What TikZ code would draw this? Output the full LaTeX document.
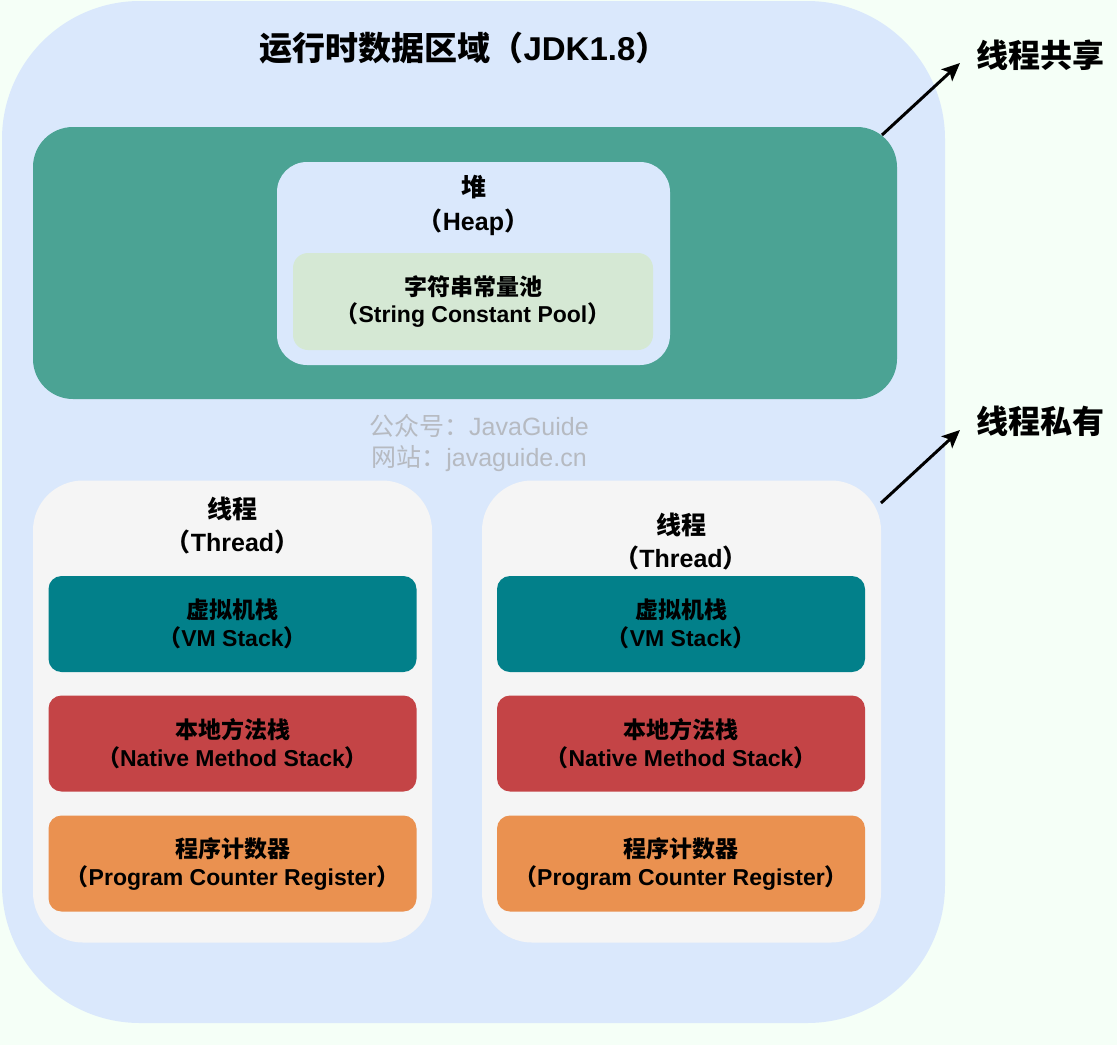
\documentclass[tikz,border=0pt]{standalone}
\usepackage{fontspec}
\setmainfont{Noto Sans CJK SC}
\newfontfamily\lat{Liberation Sans}
\usetikzlibrary{arrows.meta}
\definecolor{bgc}{HTML}{F5FFF7}
\definecolor{outerc}{HTML}{DAE8FC}
\definecolor{sharedc}{HTML}{4BA394}
\definecolor{poolc}{HTML}{D5E8D4}
\definecolor{threadc}{HTML}{F5F5F5}
\definecolor{vmc}{HTML}{02808A}
\definecolor{nativec}{HTML}{C44446}
\definecolor{pcc}{HTML}{EA9150}
\definecolor{wmc}{HTML}{B6BAC1}
\tikzset{
  area/.style={draw=none, inner sep=0pt},
  membox/.style={area, rounded corners=13pt, minimum width=368pt, minimum height=96pt,
    align=center, font=\fontsize{23}{28}\selectfont\bfseries, text=black},
  threadbox/.style={area, fill=threadc, rounded corners=50pt, minimum width=399pt, minimum height=462pt},
  lbl/.style={align=center, inner sep=0pt, text=black},
  arr/.style={line width=3pt, -{Stealth[length=18pt,width=16pt,inset=4pt]}, black}
}
\begin{document}
\begin{tikzpicture}[x=1pt,y=-1pt]
\useasboundingbox (0,0) rectangle (1117,1045);
\fill[bgc] (0,0) rectangle (1117,1045);

% runtime data area
\node[area, fill=outerc, rounded corners=138pt, minimum width=943pt, minimum height=1022pt] (runtime) at (473.5,512) {};
\node[lbl, font=\fontsize{33}{38}\selectfont\bfseries] (title) at (464,48) {运行时数据区域（{\lat JDK1.8}）};

% shared area (heap)
\node[area, fill=sharedc, rounded corners=40pt, minimum width=864pt, minimum height=272pt] (shared) at (465,263) {};
\node[area, fill=outerc, rounded corners=30pt, minimum width=393pt, minimum height=203pt] (heap) at (473.5,263.5) {};
\node[lbl, font=\fontsize{25}{34}\selectfont\bfseries] (heaplbl) at (473.5,205) {堆\\（{\lat Heap}）};
\node[area, fill=poolc, rounded corners=15pt, minimum width=360pt, minimum height=97pt,
  align=center, font=\fontsize{23}{27}\selectfont\bfseries] (pool) at (473,301.5) {字符串常量池\\（{\lat String Constant Pool}）};

% watermark
\node[lbl, text=wmc, font=\fontsize{25}{31}\selectfont] (wm) at (479,443) {公众号：{\lat JavaGuide}\\网站：{\lat javaguide.cn}};

% left thread
\node[threadbox] (t1) at (232.5,711.5) {};
\node[lbl, font=\fontsize{25}{33}\selectfont\bfseries] (t1lbl) at (232.5,526) {线程\\（{\lat Thread}）};
\node[membox, fill=vmc] (t1vm) at (232.5,624) {虚拟机栈\\（{\lat VM Stack}）};
\node[membox, fill=nativec] (t1nat) at (232.5,743.5) {本地方法栈\\（{\lat Native Method Stack}）};
\node[membox, fill=pcc] (t1pc) at (232.5,863.5) {程序计数器\\（{\lat Program Counter Register}）};

% right thread
\node[threadbox] (t2) at (681.5,711.5) {};
\node[lbl, font=\fontsize{25}{33}\selectfont\bfseries] (t2lbl) at (681,542) {线程\\（{\lat Thread}）};
\node[membox, fill=vmc] (t2vm) at (681,624) {虚拟机栈\\（{\lat VM Stack}）};
\node[membox, fill=nativec] (t2nat) at (681,743.5) {本地方法栈\\（{\lat Native Method Stack}）};
\node[membox, fill=pcc] (t2pc) at (681,863.5) {程序计数器\\（{\lat Program Counter Register}）};

% side labels and arrows
\node[lbl, font=\fontsize{32}{38}\selectfont\bfseries] (sharelbl) at (1040,55) {线程共享};
\node[lbl, font=\fontsize{32}{38}\selectfont\bfseries] (privlbl) at (1040,421) {线程私有};
\coordinate (s1) at (882,135);
\coordinate (e1) at (960,63);
\coordinate (s2) at (881,503);
\coordinate (e2) at (960,430);
\draw[arr] (s1) -- (e1);
\draw[arr] (s2) -- (e2);
\end{tikzpicture}
\end{document}
